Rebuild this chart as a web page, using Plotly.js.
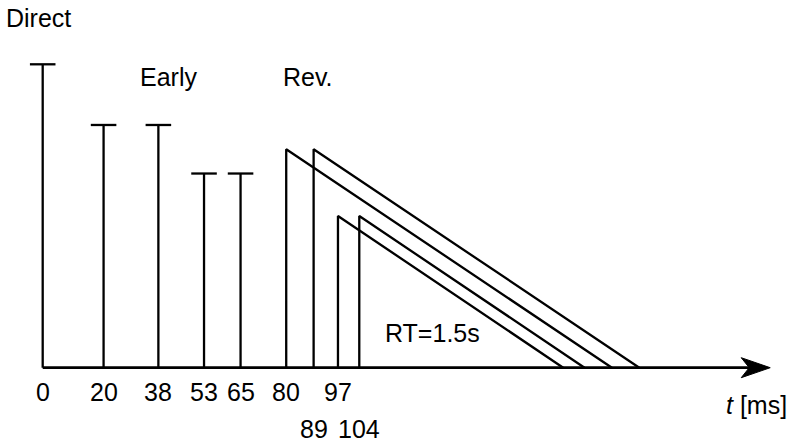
<!DOCTYPE html>
<html>
<head>
<meta charset="utf-8">
<script src="https://cdn.plot.ly/plotly-3.0.1.min.js"></script>
<style>html,body{margin:0;padding:0;background:#fff;}#chart{width:790px;height:443px;}</style>
</head>
<body>
<div id="chart"></div>
<script>
// ---- data (time in ms, relative amplitude) ----
const directTimes = [0];
const directAmps = [1.0];
const earlyTimes = [20, 38, 53, 65];
const earlyAmps = [0.80, 0.80, 0.64, 0.64];
const revTimes = [80, 89, 97, 104];
const revAmps = [0.72, 0.72, 0.50, 0.50];
const revEnds = [187, 196, 171, 178];
const tickRow1 = [0, 20, 38, 53, 65, 80, 97];
const tickRow2 = [89, 104];
const axisEnd = 239;

// ---- styling ----
const W = 790, H = 443;
const x0px = 42.7, pxPerMs = 3.044;
const y0px = 367.7, pxPerUnit = 303.4;
const capHalf = 4.2;
const FONT = 'Liberation Sans, Arial, Helvetica, sans-serif';
const FS = 25;

function spikes(times, amps) {
  const x = [], y = [];
  times.forEach((t, i) => {
    x.push(t, t, null, t - capHalf, t + capHalf, null);
    y.push(0, amps[i], null, amps[i], amps[i], null);
  });
  return {x, y};
}
function tris(times, amps, ends) {
  const x = [], y = [];
  times.forEach((t, i) => {
    x.push(t, t, ends[i], null);
    y.push(0, amps[i], 0, null);
  });
  return {x, y};
}
const d = spikes(directTimes, directAmps);
const e = spikes(earlyTimes, earlyAmps);
const r = tris(revTimes, revAmps, revEnds);
const lineStyle = {color: '#000', width: 2.3};
const traces = [
  {x: d.x, y: d.y, mode: 'lines', line: lineStyle, hoverinfo: 'skip', cliponaxis: false},
  {x: e.x, y: e.y, mode: 'lines', line: lineStyle, hoverinfo: 'skip', cliponaxis: false},
  {x: r.x, y: r.y, mode: 'lines', line: lineStyle, hoverinfo: 'skip', cliponaxis: false}
];

const xr = [-x0px / pxPerMs, (W - x0px) / pxPerMs];
const yr = [-(H - y0px) / pxPerUnit, y0px / pxPerUnit];

const ann = [];
tickRow1.forEach(t => ann.push({x: t, y: 0, xref: 'x', yref: 'y', text: String(t), showarrow: false,
  yshift: -24, borderpad: 0, font: {size: FS, family: FONT, color: '#000'}}));
tickRow2.forEach(t => ann.push({x: t, y: 0, xref: 'x', yref: 'y', text: String(t), showarrow: false,
  yshift: -61, borderpad: 0, font: {size: FS, family: FONT, color: '#000'}}));
function pAnn(text, cx, cy, extra) {
  return Object.assign({x: cx / W, y: 1 - cy / H, xref: 'paper', yref: 'paper', text: text, showarrow: false,
    xanchor: 'center', yanchor: 'middle', borderpad: 0, font: {size: FS, family: FONT, color: '#000'}}, extra || {});
}
ann.push(pAnn('Direct', 38.5, 18));
ann.push(pAnn('Early', 168, 77));
ann.push(pAnn('Rev.', 308, 77));
ann.push(pAnn('RT=1.5s', 432, 333));
ann.push(pAnn('<i>t</i> [ms]', 756, 405));

const layout = {
  width: W, height: H,
  margin: {l: 0, r: 0, t: 0, b: 0},
  paper_bgcolor: '#fff', plot_bgcolor: '#fff',
  showlegend: false,
  xaxis: {range: xr, visible: false, fixedrange: true},
  yaxis: {range: yr, visible: false, fixedrange: true},
  annotations: ann,
  shapes: [
    {type: 'line', xref: 'x', yref: 'y', x0: 0, x1: axisEnd - 5, y0: 0, y1: 0, line: {color: '#000', width: 2.7}},
    {type: 'path', xref: 'x', yref: 'y', xsizemode: 'pixel', ysizemode: 'pixel', xanchor: axisEnd, yanchor: 0,
     path: 'M0,0 L-29,10 L-21,0 L-29,-10 Z', fillcolor: '#000', line: {color: '#000', width: 1}}
  ]
};
Plotly.newPlot('chart', traces, layout, {displayModeBar: false, staticPlot: true});
</script>
</body>
</html>
